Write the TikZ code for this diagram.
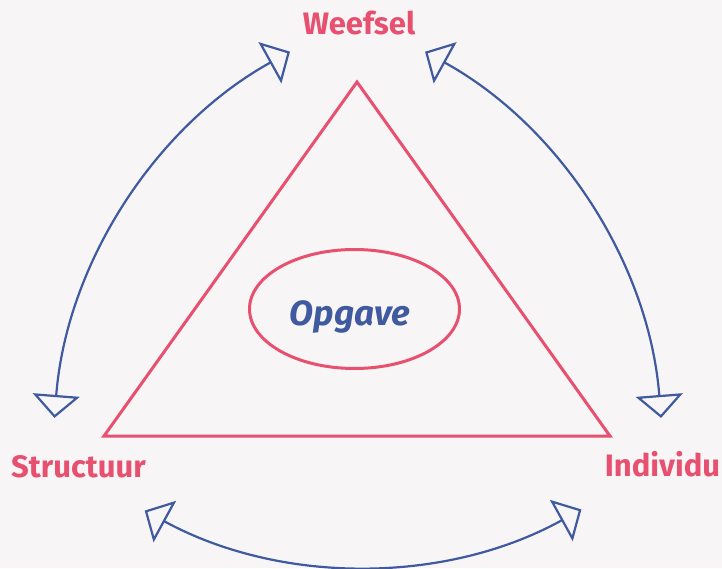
\documentclass[tikz,border=0pt]{standalone}
\usepackage{fontspec}
\setmainfont{Fira Sans}
\usetikzlibrary{arrows.meta,shapes.geometric}
\definecolor{pinkc}{HTML}{E8506F}
\definecolor{bluec}{HTML}{3F5A9E}
\definecolor{bgc}{HTML}{F8F5F7}
\begin{document}
\begin{tikzpicture}[x=1pt,y=1pt,
  lbl/.style={text=pinkc,font=\bfseries\fontsize{31}{36}\selectfont,inner sep=0pt,anchor=base},
  link/.style={draw=bluec,line width=2.2pt,{Triangle[open,length=23pt,width=47pt]}-{Triangle[open,length=23pt,width=47pt]}},
  frame/.style={draw=pinkc,line width=3pt,line join=miter}
]
\fill[bgc] (0,0) rectangle (722,568);
\useasboundingbox (0,0) rectangle (722,568);
% triangle
\coordinate (A) at (357,486);
\coordinate (B) at (104,132);
\coordinate (C) at (610,132);
\draw[frame] (A) -- (B) -- (C) -- cycle;
% ellipse and centre text
\node[frame,ellipse,minimum width=210pt,minimum height=119pt,inner sep=0pt] (ell) at (354.5,259) {};
\node[text=bluec,font=\bfseries\itshape\fontsize{35}{40}\selectfont,inner sep=0pt,anchor=base] (opg) at (350,243) {Opgave};
% labels
\node[lbl] (wee) at (359,533) {Weefsel};
\node[lbl] (str) at (78.5,91) {Structuur};
\node[lbl] (ind) at (662.5,92) {Individu};
% arc centres
\coordinate (c1) at (513,114);
\coordinate (c2) at (203,114);
\coordinate (c3) at (362,456);
\path (c1) ++(119:460) coordinate (l1);
\path (c2) ++(61.1:459.5) coordinate (r1);
\path (c3) ++(241.4:454) coordinate (b1);
\draw[link] (l1) arc[start angle=119,end angle=175.5,radius=460];
\draw[link] (r1) arc[start angle=61.1,end angle=4.5,radius=459.5];
\draw[link] (b1) arc[start angle=241.4,end angle=298.9,radius=454];
\end{tikzpicture}
\end{document}
